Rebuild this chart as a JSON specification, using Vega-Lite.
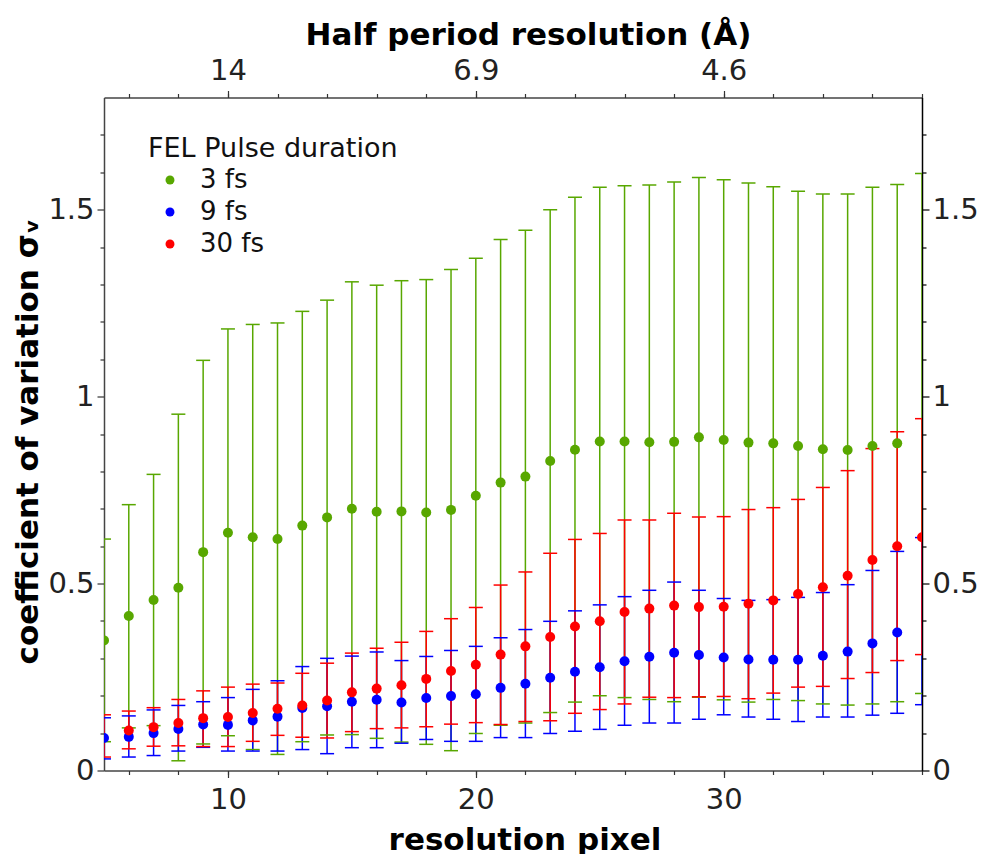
{
  "$schema": "https://vega.github.io/schema/vega-lite/v6.json",
  "width": 818,
  "height": 673,
  "autosize": {"type": "none"},
  "padding": {"left": 104, "top": 97.5, "right": 61, "bottom": 83.5},
  "background": "white",
  "config": {
    "font": "DejaVu Sans",
    "view": {"stroke": null},
    "axis": {
      "grid": false,
      "labelFont": "DejaVu Sans",
      "labelFontSize": 29,
      "labelColor": "#222222",
      "titleFont": "DejaVu Sans",
      "titleFontSize": 31,
      "titleFontWeight": "bold",
      "titleColor": "#000000",
      "labelFlush": false,
      "labelOverlap": false,
      "tickColor": "#333333",
      "domainColor": "#444444",
      "domainWidth": 1.5,
      "tickWidth": 1.2
    }
  },
  "data": {
    "values": [
      {"series": "3 fs", "px": 5, "mean": 0.348, "lo": 0.077, "hi": 0.619},
      {"series": "3 fs", "px": 6, "mean": 0.413, "lo": 0.114, "hi": 0.711},
      {"series": "3 fs", "px": 7, "mean": 0.456, "lo": 0.12, "hi": 0.792},
      {"series": "3 fs", "px": 8, "mean": 0.489, "lo": 0.026, "hi": 0.953},
      {"series": "3 fs", "px": 9, "mean": 0.584, "lo": 0.071, "hi": 1.097},
      {"series": "3 fs", "px": 10, "mean": 0.636, "lo": 0.093, "hi": 1.181},
      {"series": "3 fs", "px": 11, "mean": 0.624, "lo": 0.056, "hi": 1.193},
      {"series": "3 fs", "px": 12, "mean": 0.619, "lo": 0.043, "hi": 1.197},
      {"series": "3 fs", "px": 13, "mean": 0.655, "lo": 0.077, "hi": 1.228},
      {"series": "3 fs", "px": 14, "mean": 0.677, "lo": 0.095, "hi": 1.258},
      {"series": "3 fs", "px": 15, "mean": 0.7, "lo": 0.096, "hi": 1.307},
      {"series": "3 fs", "px": 16, "mean": 0.692, "lo": 0.086, "hi": 1.298},
      {"series": "3 fs", "px": 17, "mean": 0.693, "lo": 0.076, "hi": 1.31},
      {"series": "3 fs", "px": 18, "mean": 0.69, "lo": 0.07, "hi": 1.313},
      {"series": "3 fs", "px": 19, "mean": 0.697, "lo": 0.053, "hi": 1.34},
      {"series": "3 fs", "px": 20, "mean": 0.735, "lo": 0.099, "hi": 1.37},
      {"series": "3 fs", "px": 21, "mean": 0.77, "lo": 0.121, "hi": 1.42},
      {"series": "3 fs", "px": 22, "mean": 0.786, "lo": 0.127, "hi": 1.445},
      {"series": "3 fs", "px": 23, "mean": 0.828, "lo": 0.155, "hi": 1.5},
      {"series": "3 fs", "px": 24, "mean": 0.858, "lo": 0.183, "hi": 1.533},
      {"series": "3 fs", "px": 25, "mean": 0.88, "lo": 0.2, "hi": 1.56},
      {"series": "3 fs", "px": 26, "mean": 0.88, "lo": 0.195, "hi": 1.564},
      {"series": "3 fs", "px": 27, "mean": 0.878, "lo": 0.19, "hi": 1.566},
      {"series": "3 fs", "px": 28, "mean": 0.879, "lo": 0.184, "hi": 1.574},
      {"series": "3 fs", "px": 29, "mean": 0.891, "lo": 0.196, "hi": 1.586},
      {"series": "3 fs", "px": 30, "mean": 0.884, "lo": 0.189, "hi": 1.58},
      {"series": "3 fs", "px": 31, "mean": 0.877, "lo": 0.183, "hi": 1.571},
      {"series": "3 fs", "px": 32, "mean": 0.875, "lo": 0.19, "hi": 1.561},
      {"series": "3 fs", "px": 33, "mean": 0.868, "lo": 0.187, "hi": 1.549},
      {"series": "3 fs", "px": 34, "mean": 0.859, "lo": 0.178, "hi": 1.542},
      {"series": "3 fs", "px": 35, "mean": 0.857, "lo": 0.175, "hi": 1.542},
      {"series": "3 fs", "px": 36, "mean": 0.868, "lo": 0.178, "hi": 1.56},
      {"series": "3 fs", "px": 37, "mean": 0.875, "lo": 0.184, "hi": 1.567},
      {"series": "3 fs", "px": 38, "mean": null, "lo": 0.206, "hi": 1.597},
      {"series": "9 fs", "px": 5, "mean": 0.087, "lo": 0.031, "hi": 0.141},
      {"series": "9 fs", "px": 6, "mean": 0.09, "lo": 0.036, "hi": 0.146},
      {"series": "9 fs", "px": 7, "mean": 0.1, "lo": 0.04, "hi": 0.162},
      {"series": "9 fs", "px": 8, "mean": 0.111, "lo": 0.052, "hi": 0.174},
      {"series": "9 fs", "px": 9, "mean": 0.123, "lo": 0.062, "hi": 0.184},
      {"series": "9 fs", "px": 10, "mean": 0.122, "lo": 0.052, "hi": 0.195},
      {"series": "9 fs", "px": 11, "mean": 0.134, "lo": 0.052, "hi": 0.217},
      {"series": "9 fs", "px": 12, "mean": 0.144, "lo": 0.052, "hi": 0.24},
      {"series": "9 fs", "px": 13, "mean": 0.167, "lo": 0.056, "hi": 0.278},
      {"series": "9 fs", "px": 14, "mean": 0.172, "lo": 0.045, "hi": 0.3},
      {"series": "9 fs", "px": 15, "mean": 0.184, "lo": 0.061, "hi": 0.306},
      {"series": "9 fs", "px": 16, "mean": 0.189, "lo": 0.061, "hi": 0.317},
      {"series": "9 fs", "px": 17, "mean": 0.182, "lo": 0.073, "hi": 0.294},
      {"series": "9 fs", "px": 18, "mean": 0.194, "lo": 0.083, "hi": 0.305},
      {"series": "9 fs", "px": 19, "mean": 0.199, "lo": 0.078, "hi": 0.321},
      {"series": "9 fs", "px": 20, "mean": 0.204, "lo": 0.078, "hi": 0.332},
      {"series": "9 fs", "px": 21, "mean": 0.221, "lo": 0.088, "hi": 0.355},
      {"series": "9 fs", "px": 22, "mean": 0.232, "lo": 0.088, "hi": 0.377},
      {"series": "9 fs", "px": 23, "mean": 0.248, "lo": 0.099, "hi": 0.399},
      {"series": "9 fs", "px": 24, "mean": 0.264, "lo": 0.105, "hi": 0.427},
      {"series": "9 fs", "px": 25, "mean": 0.276, "lo": 0.11, "hi": 0.443},
      {"series": "9 fs", "px": 26, "mean": 0.292, "lo": 0.121, "hi": 0.465},
      {"series": "9 fs", "px": 27, "mean": 0.304, "lo": 0.127, "hi": 0.482},
      {"series": "9 fs", "px": 28, "mean": 0.315, "lo": 0.127, "hi": 0.504},
      {"series": "9 fs", "px": 29, "mean": 0.309, "lo": 0.137, "hi": 0.482},
      {"series": "9 fs", "px": 30, "mean": 0.302, "lo": 0.149, "hi": 0.46},
      {"series": "9 fs", "px": 31, "mean": 0.297, "lo": 0.143, "hi": 0.455},
      {"series": "9 fs", "px": 32, "mean": 0.296, "lo": 0.137, "hi": 0.457},
      {"series": "9 fs", "px": 33, "mean": 0.296, "lo": 0.131, "hi": 0.463},
      {"series": "9 fs", "px": 34, "mean": 0.307, "lo": 0.143, "hi": 0.476},
      {"series": "9 fs", "px": 35, "mean": 0.318, "lo": 0.143, "hi": 0.497},
      {"series": "9 fs", "px": 36, "mean": 0.34, "lo": 0.148, "hi": 0.535},
      {"series": "9 fs", "px": 37, "mean": 0.369, "lo": 0.153, "hi": 0.586},
      {"series": "9 fs", "px": 38, "mean": null, "lo": 0.176, "hi": 0.623},
      {"series": "30 fs", "px": 5, "mean": null, "lo": 0.036, "hi": 0.149},
      {"series": "30 fs", "px": 6, "mean": 0.107, "lo": 0.058, "hi": 0.159},
      {"series": "30 fs", "px": 7, "mean": 0.116, "lo": 0.065, "hi": 0.168},
      {"series": "30 fs", "px": 8, "mean": 0.127, "lo": 0.066, "hi": 0.19},
      {"series": "30 fs", "px": 9, "mean": 0.14, "lo": 0.064, "hi": 0.213},
      {"series": "30 fs", "px": 10, "mean": 0.143, "lo": 0.064, "hi": 0.223},
      {"series": "30 fs", "px": 11, "mean": 0.154, "lo": 0.078, "hi": 0.231},
      {"series": "30 fs", "px": 12, "mean": 0.165, "lo": 0.094, "hi": 0.234},
      {"series": "30 fs", "px": 13, "mean": 0.174, "lo": 0.089, "hi": 0.26},
      {"series": "30 fs", "px": 14, "mean": 0.187, "lo": 0.087, "hi": 0.287},
      {"series": "30 fs", "px": 15, "mean": 0.209, "lo": 0.104, "hi": 0.314},
      {"series": "30 fs", "px": 16, "mean": 0.219, "lo": 0.112, "hi": 0.327},
      {"series": "30 fs", "px": 17, "mean": 0.228, "lo": 0.114, "hi": 0.343},
      {"series": "30 fs", "px": 18, "mean": 0.245, "lo": 0.117, "hi": 0.372},
      {"series": "30 fs", "px": 19, "mean": 0.266, "lo": 0.124, "hi": 0.406},
      {"series": "30 fs", "px": 20, "mean": 0.283, "lo": 0.128, "hi": 0.436},
      {"series": "30 fs", "px": 21, "mean": 0.31, "lo": 0.123, "hi": 0.496},
      {"series": "30 fs", "px": 22, "mean": 0.332, "lo": 0.131, "hi": 0.531},
      {"series": "30 fs", "px": 23, "mean": 0.357, "lo": 0.133, "hi": 0.581},
      {"series": "30 fs", "px": 24, "mean": 0.385, "lo": 0.153, "hi": 0.618},
      {"series": "30 fs", "px": 25, "mean": 0.399, "lo": 0.163, "hi": 0.634},
      {"series": "30 fs", "px": 26, "mean": 0.424, "lo": 0.178, "hi": 0.67},
      {"series": "30 fs", "px": 27, "mean": 0.433, "lo": 0.196, "hi": 0.67},
      {"series": "30 fs", "px": 28, "mean": 0.441, "lo": 0.195, "hi": 0.688},
      {"series": "30 fs", "px": 29, "mean": 0.437, "lo": 0.197, "hi": 0.678},
      {"series": "30 fs", "px": 30, "mean": 0.438, "lo": 0.198, "hi": 0.679},
      {"series": "30 fs", "px": 31, "mean": 0.446, "lo": 0.192, "hi": 0.698},
      {"series": "30 fs", "px": 32, "mean": 0.455, "lo": 0.207, "hi": 0.703},
      {"series": "30 fs", "px": 33, "mean": 0.472, "lo": 0.223, "hi": 0.725},
      {"series": "30 fs", "px": 34, "mean": 0.49, "lo": 0.225, "hi": 0.757},
      {"series": "30 fs", "px": 35, "mean": 0.521, "lo": 0.246, "hi": 0.802},
      {"series": "30 fs", "px": 36, "mean": 0.563, "lo": 0.262, "hi": 0.861},
      {"series": "30 fs", "px": 37, "mean": 0.6, "lo": 0.294, "hi": 0.906},
      {"series": "30 fs", "px": 38, "mean": 0.624, "lo": 0.31, "hi": 0.941}
    ]
  },
  "resolve": {"axis": {"x": "independent", "y": "independent"}, "legend": {"color": "independent"}},
  "layer": [
    {
      "mark": {"type": "rule", "strokeWidth": 1.5, "clip": true},
      "encoding": {
        "x": {
          "field": "px", "type": "quantitative",
          "scale": {"domain": [5, 38], "nice": false, "zero": false},
          "axis": {"orient": "bottom", "values": [10, 20, 30], "tickSize": 7, "labelPadding": 8,
                   "title": "resolution pixel", "titleX": 420.5, "titleY": 79, "titleBaseline": "alphabetic", "titleAlign": "center"}
        },
        "y": {
          "field": "lo", "type": "quantitative",
          "scale": {"domain": [0, 1.8], "nice": false, "zero": true},
          "axis": {"orient": "left", "values": [0, 0.5, 1, 1.5], "format": "~g", "tickSize": 7, "labelPadding": 3,
                   "title": "coefficient of variation σᵥ", "titleX": -67, "titleY": 343.5, "titleBaseline": "alphabetic", "titleAlign": "center", "titleAngle": 270}
        },
        "y2": {"field": "hi"},
        "color": {
          "field": "series", "type": "nominal",
          "scale": {"domain": ["3 fs", "9 fs", "30 fs"], "range": ["#58a700", "#0000ff", "#ff0000"]},
          "legend": null
        }
      }
    },
    {
      "mark": {"type": "tick", "orient": "horizontal", "size": 14, "thickness": 1.5, "opacity": 1, "clip": true},
      "encoding": {
        "x": {
          "field": "px", "type": "quantitative",
          "axis": {"orient": "bottom", "values": [6, 8, 10, 12, 14, 16, 18, 20, 22, 24, 26, 28, 30, 32, 34, 36, 38], "tickSize": 4, "labels": false, "domain": false, "title": null}
        },
        "y": {
          "field": "hi", "type": "quantitative",
          "axis": {"orient": "left", "values": [0.1, 0.2, 0.3, 0.4, 0.6, 0.7, 0.8, 0.9, 1.1, 1.2, 1.3, 1.4, 1.6, 1.7], "tickSize": 4, "labels": false, "domain": false, "title": null}
        },
        "color": {"field": "series", "type": "nominal", "legend": null}
      }
    },
    {
      "mark": {"type": "tick", "orient": "horizontal", "size": 14, "thickness": 1.5, "opacity": 1, "clip": true},
      "encoding": {
        "x": {
          "field": "px", "type": "quantitative",
          "axis": {"orient": "top", "values": [10, 20, 30], "tickSize": 7, "labelPadding": 5,
                   "labelExpr": "datum.value == 10 ? '14' : datum.value == 20 ? '6.9' : '4.6'",
                   "title": "Half period resolution (Å)", "titleX": 424, "titleY": -53.5, "titleBaseline": "alphabetic", "titleAlign": "center"}
        },
        "y": {
          "field": "lo", "type": "quantitative",
          "axis": {"orient": "right", "values": [0, 0.5, 1, 1.5], "format": "~g", "tickSize": 7, "labelPadding": 3,
                   "domainColor": "#000000", "tickColor": "#000000", "title": null}
        },
        "color": {"field": "series", "type": "nominal", "legend": null}
      }
    },
    {
      "mark": {"type": "circle", "size": 100, "opacity": 1, "clip": true},
      "encoding": {
        "x": {
          "field": "px", "type": "quantitative",
          "axis": {"orient": "top", "values": [6, 8, 10, 12, 14, 16, 18, 20, 22, 24, 26, 28, 30, 32, 34, 36, 38], "tickSize": 4, "labels": false, "domain": false, "title": null}
        },
        "y": {
          "field": "mean", "type": "quantitative",
          "axis": {"orient": "right", "values": [0.1, 0.2, 0.3, 0.4, 0.6, 0.7, 0.8, 0.9, 1.1, 1.2, 1.3, 1.4, 1.6, 1.7], "tickSize": 4, "labels": false, "domain": false, "tickColor": "#000000", "title": null}
        },
        "color": {
          "field": "series", "type": "nominal",
          "legend": {
            "orient": "none", "legendX": 44, "legendY": 38.5,
            "title": "FEL Pulse duration", "titleFont": "DejaVu Sans", "titleFontSize": 27, "titleFontWeight": "normal", "titleColor": "#111111", "titlePadding": 4, "titleLimit": 0,
            "labelFont": "DejaVu Sans", "labelFontSize": 26, "labelColor": "#111111", "labelLimit": 0,
            "symbolType": "circle", "symbolSize": 80, "symbolStrokeWidth": 0, "symbolOffset": 9, "labelOffset": 17,
            "rowPadding": 6, "padding": 0
          }
        }
      }
    }
  ]
}
